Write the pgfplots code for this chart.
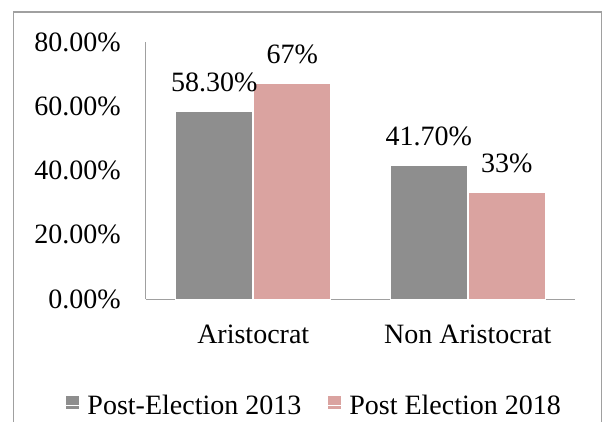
\documentclass[border=0pt]{standalone}
\usepackage{fontspec}
\setmainfont{Liberation Serif}
\usepackage{pgfplots}
\pgfplotsset{compat=1.18}
\definecolor{barG}{RGB}{142,142,142}
\definecolor{barP}{RGB}{218,163,160}
\definecolor{frameG}{RGB}{160,160,160}
\definecolor{axG}{RGB}{160,160,160}
\newcommand{\bigf}{\fontsize{28}{34}\selectfont}
\begin{document}
\begin{tikzpicture}[x=1pt,y=1pt]
\useasboundingbox (0,0) rectangle (603,421);
\fill[white] (0,0) rectangle (603,421);
\draw[frameG, line width=1.3pt] (13.3,-5) -- (13.3,409) -- (601.7,409) -- (601.7,-5);
\begin{axis}[
  at={(146pt,122pt)}, anchor=south west,
  scale only axis, width=429pt, height=257pt,
  xmin=-0.5, xmax=1.5, ymin=0, ymax=80,
  axis x line*=bottom, axis y line*=left,
  axis line style={axG, line width=1pt},
  xtick={0,1}, xticklabels={Aristocrat, Non Aristocrat},
  ytick={0,20,40,60,80},
  yticklabels={0.00\%,20.00\%,40.00\%,60.00\%,80.00\%},
  major tick length=0pt, tick style={draw=none},
  every tick label/.append style={font=\bigf},
  yticklabel style={anchor=east, inner sep=0pt, xshift=-25pt},
  xticklabel style={anchor=base, inner sep=0pt, yshift=-44pt},
  ybar, bar width=77pt,
  every node near coord/.append style={font=\bigf, anchor=base, inner sep=0pt, yshift=20pt, text=black},
  legend columns=2,
  legend style={draw=none, fill=none, font=\bigf, at={(0.392,-0.414)}, anchor=center,
    /tikz/every even column/.append style={column sep=24pt}, cells={anchor=west}},
  legend image code/.code={\fill[#1, draw=none] (0pt,-3.5pt) rectangle (13pt,9.5pt);
    \path (0pt,0pt) -- (19pt,0pt);},
]
\addplot[fill=barG, draw=white, line width=1pt, bar shift=-39pt,
  nodes near coords, point meta=explicit symbolic]
  coordinates {(0,58.3)[58.30\%] (1,41.7)[41.70\%]};
\addplot[fill=barP, draw=white, line width=1pt, bar shift=39pt,
  nodes near coords, point meta=explicit symbolic]
  coordinates {(0,67)[67\%] (1,33)[33\%]};
\legend{Post-Election 2013, Post Election 2018}
\end{axis}
\end{tikzpicture}
\end{document}
